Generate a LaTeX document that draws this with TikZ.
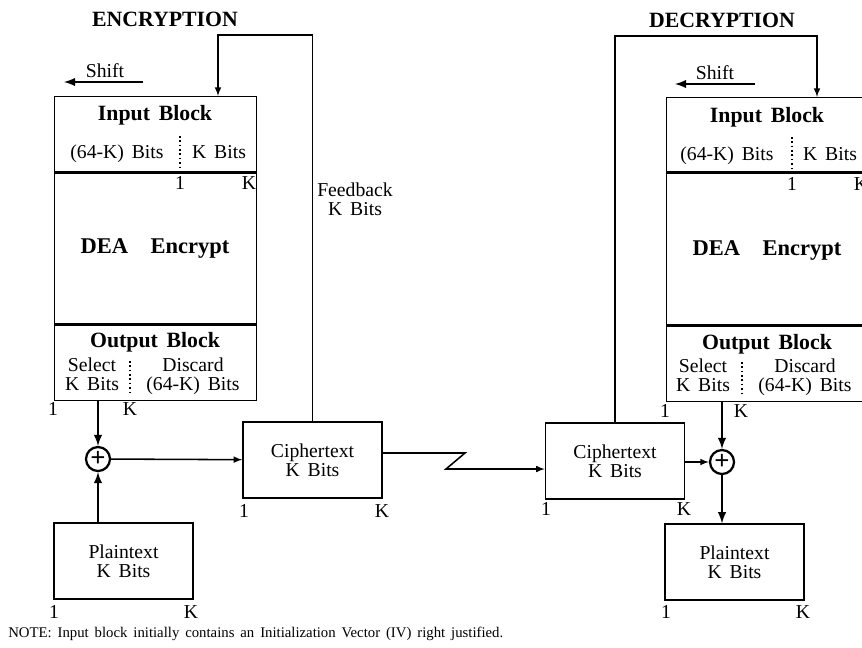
\documentclass[tikz,border=0pt]{standalone}
\usepackage{fontspec}
\setmainfont[WordSpace=1.6]{Liberation Serif}
\usepackage{tikz}
\usetikzlibrary{arrows,calc,positioning}
\tikzset{%
	block/.style    = {draw, rectangle, inner sep=0pt, minimum width=5.05cm, line width=1pt},
	box/.style      = {draw, rectangle, align=center, inner sep=0pt, minimum width=3.475cm, minimum height=1.9cm, line width=1pt, font=\fontsize{14}{13.5}\selectfont}, % Text box
	xor/.style      = {draw, circle, line width=1.6pt, minimum size=0.6cm, inner sep=0pt, font=\bfseries\fontsize{19}{19}\selectfont}, % Adder
	txt/.style      = {inner sep=0pt, anchor=base, font=\fontsize{14}{13.5}\selectfont},
	two/.style      = {inner sep=0pt, anchor=north, align=center, font=\fontsize{14}{13.5}\selectfont}, % Two lines
	hdr/.style      = {inner sep=0pt, anchor=base, font=\bfseries\fontsize{15.5}{16}\selectfont},
	idx/.style      = {inner sep=0pt, anchor=base, font=\fontsize{14}{14}\selectfont}, % Bit index
	wire/.style     = {line width=1.1pt},
	thickwire/.style = {line width=1.7pt},
	sep/.style      = {dotted, line width=1.1pt},
}
\begin{document}
\begin{tikzpicture}[x=0.025cm, y=-0.025cm, >=latex]
		\useasboundingbox (0,0) rectangle (862,647);
		\clip (0,0) rectangle (862,647);
		% encryption side
		\node[hdr] (encT) at (165,26) {ENCRYPTION};
		\node[block, minimum height=1.875cm, anchor=north west] (inL) at (54,96) {};
		\node[block, minimum height=3.775cm, anchor=north] (deaL) at (inL.south) {};
		\node[block, minimum height=1.875cm, anchor=north] (outL) at (deaL.south) {};
		\node[hdr] at (155,120) {Input Block};
		\node[txt] at (117,158) {(64-K) Bits};
		\node[txt] at (219,158) {K Bits};
		\draw[sep] (180,136) -- (180,168);
		\node[idx] at (180,189) {1};
		\node[idx] at (249,189) {K};
		\node[hdr, font=\bfseries\fontsize{16}{16}\selectfont] at (155,253) {DEA\quad Encrypt};
		\node[hdr] at (155,347) {Output Block};
		\node[two] at (92,358) {Select\\K Bits};
		\draw[sep] (130,361) -- (130,395);
		\node[two] at (193,358) {Discard\\(64-K) Bits};
		\node[idx] at (53,415) {1};
		\node[idx] at (130,415) {K};
		\node[txt] (shL) at (105,77) {Shift};
		\coordinate (shL1) at (143,82);
		\coordinate (shL2) at (64,82);
		\draw[->, thickwire] (shL1) -- (shL2);
		\node[xor] (xL) at (98,459) {+};
		\node[box] (cL) at (312.5,460) {Ciphertext\\K Bits};
		\node[idx] at (244,517) {1};
		\node[idx] at (382,517) {K};
		\node[box] (pL) at (123.5,561) {Plaintext\\K Bits};
		\node[idx] at (54,618) {1};
		\node[idx] at (191,618) {K};
		\node[two] at (355,183) {Feedback\\K Bits};
		\coordinate (topL) at (218,35);
		\draw[->, thickwire] (xL |- outL.south) -- (xL);
		\draw[->, thickwire] (xL |- pL.north) -- (xL);
		\draw[->, wire] (xL) -- (cL);
		\draw[->, wire] (cL.north) |- (topL) -- (topL |- inL.north);
		% line to decryption side
		\coordinate (z1) at (465,453);
		\coordinate (z2) at (446,469);
		% decryption side
		\node[hdr] (decT) at (722,27) {DECRYPTION};
		\node[block, minimum height=1.85cm, anchor=north west] (inR) at (666,97) {};
		\node[block, minimum height=3.8cm, anchor=north] (deaR) at (inR.south) {};
		\node[block, minimum height=1.875cm, anchor=north] (outR) at (deaR.south) {};
		\node[hdr] at (767,122) {Input Block};
		\node[txt] at (727,160) {(64-K) Bits};
		\node[txt] at (830,160) {K Bits};
		\draw[sep] (792,137) -- (792,169);
		\node[idx] at (792,190) {1};
		\node[idx] at (861,190) {K};
		\node[hdr, font=\bfseries\fontsize{16}{16}\selectfont] at (767,255) {DEA\quad Encrypt};
		\node[hdr] at (767,349) {Output Block};
		\node[two] at (703,359) {Select\\K Bits};
		\draw[sep] (742,362) -- (742,396);
		\node[two] at (805,359) {Discard\\(64-K) Bits};
		\node[idx] at (665,417) {1};
		\node[idx] at (741,417) {K};
		\node[txt] (shR) at (715,79) {Shift};
		\coordinate (shR1) at (755,84);
		\coordinate (shR2) at (675,84);
		\draw[->, thickwire] (shR1) -- (shR2);
		\node[xor] (xR) at (722,462) {+};
		\node[box] (cR) at (615,461) {Ciphertext\\K Bits};
		\node[idx] at (546,515) {1};
		\node[idx] at (684,515) {K};
		\node[box] (pR) at (734.5,562) {Plaintext\\K Bits};
		\node[idx] at (666,618) {1};
		\node[idx] at (803,618) {K};
		\coordinate (topR) at (817,36);
		\draw[->, wire] (cL.east |- z1) -- (z1) -- (z2) -- (cR.west |- z2);
		\draw[->, thickwire] (xR |- outR.south) -- (xR);
		\draw[->, wire] (cR.east |- xR) -- (xR);
		\draw[->, thickwire] (xR) -- (xR |- pR.north);
		\draw[->, wire] (cR.north) |- (topR) -- (topR |- inR.north);
		% note
		\node[anchor=base west, inner sep=0pt, font=\fontsize{10.5}{11}\selectfont] (note) at (8,637) {NOTE: Input block initially contains an Initialization Vector (IV) right justified.};
		\end{tikzpicture}
\end{document}
